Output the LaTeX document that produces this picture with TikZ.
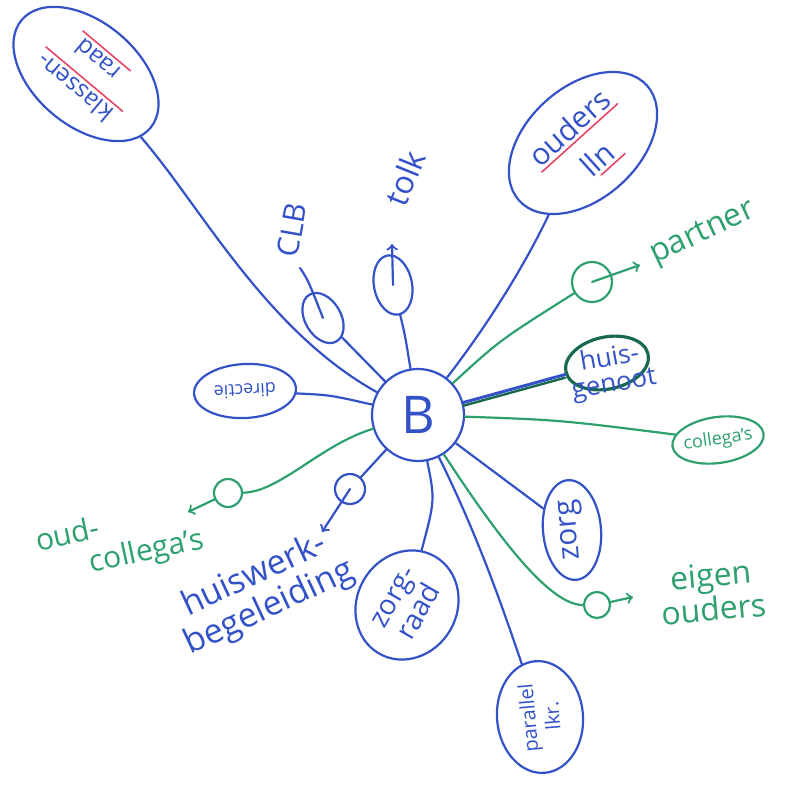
\documentclass[tikz,border=0pt]{standalone}
\usepackage{fontspec}
\setmainfont{Open Sans}
\usetikzlibrary{shapes.geometric}

\definecolor{pen}{RGB}{52,82,200}
\definecolor{stift}{RGB}{45,160,110}
\definecolor{donkergroen}{RGB}{25,105,80}
\definecolor{rood}{RGB}{230,70,100}

\begin{document}
\begin{tikzpicture}[x=0.5pt,y=-0.5pt,line cap=round,
  ovaal/.style={ellipse,draw=pen,line width=1.1pt,text=pen,inner sep=0pt,align=center},
  groen/.style={ellipse,draw=stift,line width=1.1pt,text=stift,inner sep=0pt,align=center},
  lijn/.style={pen,line width=1.1pt},
  glijn/.style={stift,line width=1.1pt},
  streep/.style={rood,line width=0.8pt},
  tekst/.style={text=pen,align=center,inner sep=0pt},
  gtekst/.style={text=stift,align=center,inner sep=0pt}]

  \useasboundingbox (0,0) rectangle (784,785);

  % centrum
  \node[ovaal,circle,minimum size=46pt,font=\fontsize{26}{28}\selectfont] (B) at (418,415) {B};

  % blauwe takken
  \node[ovaal,rotate=140,minimum width=84pt,minimum height=52pt,font=\fontsize{12}{18}\selectfont] (klas) at (86,74) {klassen-\\raad};
  \node[ovaal,rotate=42,minimum width=86pt,minimum height=56pt,font=\fontsize{15}{21}\selectfont] (ouders) at (583,143) {ouders\\lln};
  \node[ovaal,rotate=183,minimum width=51pt,minimum height=27pt,inner xsep=-3pt,font=\fontsize{9}{10}\selectfont] (dir) at (245,391) {directie};
  \node[ovaal,rotate=-60,minimum width=27pt,minimum height=18pt] (clb) at (323,318) {};
  \node[ovaal,rotate=101,minimum width=30pt,minimum height=19pt] (tolk) at (393,285) {};
  \node[ovaal,rotate=95,minimum width=50pt,minimum height=29pt,font=\fontsize{15}{16}\selectfont] (zorg) at (572,530) {zorg};
  \node[ovaal,rotate=60,minimum width=56pt,minimum height=50pt,inner xsep=-3pt,font=\fontsize{14}{15}\selectfont] (zr) at (407,605) {zorg-\\raad};
  \node[ovaal,rotate=95,minimum width=56pt,minimum height=43pt,inner xsep=-4pt,font=\fontsize{10}{12}\selectfont] (par) at (540,717) {parallel\\lkr.};
  \node[ovaal,circle,minimum size=15pt] (hw) at (350,489) {};

  \node[tekst,rotate=80,font=\fontsize{15}{16}\selectfont] (clbt) at (292,230) {CLB};
  \node[tekst,rotate=68,font=\fontsize{16}{17}\selectfont] (tolkt) at (405,178) {tolk};
  \node[tekst,rotate=25,font=\fontsize{17}{18}\selectfont] (hwt) at (262,592) {huiswerk-\\begeleiding};

  % rode strepen
  \begin{scope}[shift={(klas.center)},rotate=140]
    \draw[streep] (-26pt,2.5pt) -- (24pt,2.5pt);
    \draw[streep] (-16pt,-15.5pt) -- (15pt,-15.5pt);
  \end{scope}
  \begin{scope}[shift={(ouders.center)},rotate=42]
    \draw[streep] (-25pt,3pt) -- (26pt,3pt);
    \draw[streep] (-4pt,-18pt) -- (12pt,-18pt);
  \end{scope}

  % groene takken
  \node[groen,circle,minimum size=20pt] (pa) at (592,282) {};
  \node[gtekst,rotate=25,anchor=west,font=\fontsize{16}{17}\selectfont] (pat) at (652,258) {partner};
  \node[groen,rotate=8,minimum width=46pt,minimum height=23pt,inner xsep=-5pt,font=\fontsize{9}{10}\selectfont] (col) at (718,440) {collega's};
  \node[groen,circle,minimum size=13pt] (eo) at (597,605) {};
  \node[gtekst,rotate=5,font=\fontsize{16}{17}\selectfont] (eot) at (712,592) {eigen\\ouders};
  \node[groen,circle,minimum size=14pt] (oc) at (228,493) {};
  \node[gtekst,rotate=12,align=left,font=\fontsize{15}{16}\selectfont] (oct) at (120,542) {oud-\\\hspace{1.6em}collega's};

  % huisgenoot
  \node[ellipse,draw=donkergroen,line width=1.6pt,rotate=12,minimum width=42pt,minimum height=26pt] (hg) at (607,363) {};
  \node[tekst,rotate=10,font=\fontsize{13}{13}\selectfont] (hgt) at (612,372) {huis-\\genoot};

  % pijlpunten
  \coordinate (pa-pijl) at (640,265);
  \coordinate (eo-pijl) at (633,597);
  \coordinate (oc-pijl) at (188,512);
  \coordinate (hw-pijl) at (322,532);
  \coordinate (tolk-pijl) at (392,244);
  \coordinate (clb-haak) at (300,268);

  % verbindingen blauw
  \draw[lijn] (klas) .. controls (200,205) and (265,330) .. (B);
  \draw[lijn] (ouders) .. controls (520,275) and (480,335) .. (B);
  \draw[lijn] (dir) .. controls (330,395) .. (B);
  \draw[lijn] (clb) -- (B);
  \draw[lijn] (tolk) .. controls (405,335) .. (B);
  \draw[lijn] (B) -- (zorg);
  \draw[lijn] (B) .. controls (435,500) .. (zr);
  \draw[lijn] (B) .. controls (480,540) and (505,615) .. (par);
  \draw[lijn] (B) -- (hw);
  \draw[lijn,->] (hw.center) -- (hw-pijl);
  \draw[lijn,->] (tolk.center) -- (tolk-pijl);
  \draw[lijn] (clb.center) .. controls (308,280) .. (clb-haak);

  % verbindingen groen
  \draw[glijn] (B) .. controls (500,340) .. (pa);
  \draw[glijn,->] (pa.center) -- (pa-pijl);
  \draw[glijn] (B) .. controls (560,420) .. (col);
  \draw[glijn] (B) .. controls (500,540) and (550,605) .. (eo);
  \draw[glijn,->] (eo) -- (eo-pijl);
  \draw[glijn] (B) .. controls (320,445) and (280,492) .. (oc);
  \draw[glijn,->] (oc) -- (oc-pijl);

  % dubbele lijn naar huisgenoot
  \draw[pen,line width=1.5pt] (B) -- (hg);
  \draw[donkergroen,line width=1.2pt,transform canvas={yshift=-1.6pt}] (B) -- (hg);
\end{tikzpicture}
\end{document}
